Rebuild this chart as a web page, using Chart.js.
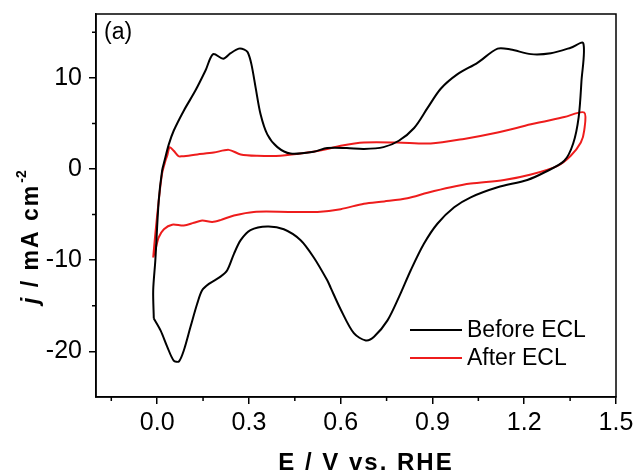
<!DOCTYPE html>
<html>
<head>
<meta charset="utf-8">
<script src="https://cdn.jsdelivr.net/npm/chart.js@4.4.1/dist/chart.umd.min.js"></script>
<style>
  html, body { margin: 0; padding: 0; background: #fff; }
  #wrap { width: 638px; height: 474px; }
</style>
</head>
<body>
<div id="wrap"><canvas id="cv" width="638" height="474"></canvas></div>
<script>
// CV loops (E in V vs RHE, j in mA cm-2)
const beforeE = [-0.011, -0.013, -0.006, 0.005, 0.016, 0.024, 0.038, 0.054, 0.087, 0.125, 0.158, 0.183, 0.216, 0.240, 0.267, 0.285, 0.296, 0.308, 0.322, 0.338, 0.360, 0.393, 0.436, 0.512, 0.556, 0.620, 0.676, 0.740, 0.790, 0.840, 0.884, 0.927, 0.982, 1.047, 1.113, 1.156, 1.222, 1.287, 1.352, 1.393,
  1.387, 1.378, 1.360, 1.331, 1.270, 1.210, 1.113, 1.025, 0.971, 0.916, 0.872, 0.829, 0.791, 0.753, 0.709, 0.682, 0.643, 0.600, 0.567, 0.556, 0.512, 0.469, 0.414, 0.360, 0.305, 0.273, 0.251, 0.229, 0.207, 0.169, 0.147, 0.131, 0.109, 0.087, 0.071, 0.054, 0.033, 0.011, -0.011];
const beforeJ = [-16.4, -13.3, -10.0, -3.5, -0.2, 0.9, 2.7, 4.2, 6.4, 8.6, 10.8, 12.6, 12.1, 12.7, 13.2, 13.1, 12.8, 11.5, 8.9, 6.0, 3.8, 2.4, 1.7, 1.9, 2.3, 2.3, 2.2, 2.4, 3.1, 4.5, 6.7, 8.8, 10.4, 11.65, 13.2, 13.1, 12.6, 12.7, 13.3, 13.8,
  9.6, 5.7, 2.8, 0.9, -0.3, -1.2, -2.0, -3.1, -4.2, -6.0, -8.2, -11.1, -14.0, -16.6, -18.4, -18.8, -18.0, -15.4, -13.0, -12.2, -9.7, -7.8, -6.6, -6.3, -6.7, -7.8, -9.3, -11.1, -11.8, -12.6, -13.3, -14.75, -17.3, -19.9, -21.1, -21.0, -19.5, -17.7, -16.4];

const afterE = [-0.013, -0.006, 0.005, 0.016, 0.027, 0.033, 0.041, 0.054, 0.070, 0.082, 0.131, 0.185, 0.234, 0.273, 0.327, 0.403, 0.491, 0.556, 0.600, 0.676, 0.785, 0.894, 1.003, 1.113, 1.222, 1.331, 1.396,
  1.396, 1.385, 1.352, 1.309, 1.222, 1.134, 1.025, 0.960, 0.884, 0.818, 0.742, 0.676, 0.600, 0.524, 0.436, 0.316, 0.251, 0.207, 0.180, 0.147, 0.120, 0.087, 0.049, 0.022, 0.005, -0.006, -0.013];
const afterJ = [-9.7, -7.1, -3.5, -0.5, 0.9, 1.5, 2.4, 2.0, 1.4, 1.4, 1.6, 1.8, 2.1, 1.6, 1.45, 1.45, 1.8, 2.2, 2.55, 2.9, 2.9, 2.8, 3.3, 4.0, 4.9, 5.7, 6.2,
  4.2, 2.9, 1.45, 0.35, -0.6, -1.2, -1.6, -2.0, -2.6, -3.2, -3.55, -3.8, -4.4, -4.7, -4.7, -4.7, -5.1, -5.6, -5.8, -5.65, -5.9, -6.2, -6.1, -6.6, -7.5, -8.9, -9.7];

const seriesNames = ['Before ECL', 'After ECL'];
const xMajor = [0, 0.3, 0.6, 0.9, 1.2, 1.5];
const xMinor = [-0.15, 0.15, 0.45, 0.75, 1.05, 1.35];
const yMajor = [-20, -10, 0, 10];
const yMinor = [-15, -5, 5, 15];

const family = "Arial, 'Liberation Sans', sans-serif";

const toPoints = (xs, ys) => xs.map((x, i) => ({ x: x, y: ys[i] }));

// frame, minor ticks, legend, axis titles and panel label
const decorations = {
  id: 'decorations',
  afterDraw(chart) {
    const ctx = chart.ctx;
    const area = chart.chartArea;
    const xs = chart.scales.x;
    const ys = chart.scales.y;

    ctx.save();
    ctx.strokeStyle = '#000';
    ctx.lineWidth = 1.5;
    ctx.strokeRect(area.left, area.top, area.right - area.left, area.bottom - area.top);

    ctx.beginPath();
    xMinor.forEach(v => {
      const px = xs.getPixelForValue(v);
      ctx.moveTo(px, area.bottom);
      ctx.lineTo(px, area.bottom + 4);
    });
    yMinor.forEach(v => {
      const py = ys.getPixelForValue(v);
      ctx.moveTo(area.left, py);
      ctx.lineTo(area.left - 4, py);
    });
    ctx.stroke();

    // legend
    ctx.lineWidth = 2;
    ctx.font = '23px ' + family;
    ctx.textBaseline = 'middle';
    ctx.textAlign = 'left';
    chart.data.datasets.forEach((ds, i) => {
      const y = 330 + i * 28;
      ctx.strokeStyle = ds.borderColor;
      ctx.beginPath();
      ctx.moveTo(410, y);
      ctx.lineTo(462, y);
      ctx.stroke();
      ctx.fillStyle = '#000';
      ctx.fillText(ds.label, 467, y + 1);
    });

    // panel label
    ctx.font = '23px ' + family;
    ctx.textBaseline = 'alphabetic';
    ctx.fillText('(a)', 104, 39);

    // x title
    ctx.letterSpacing = '2px';
    ctx.font = 'bold 24px ' + family;
    ctx.textAlign = 'center';
    ctx.fillText('E / V vs. RHE', 366, 470);

    // y title
    ctx.textAlign = 'left';
    ctx.translate(38, 304);
    ctx.rotate(-Math.PI / 2);
    ctx.font = 'italic bold 23px ' + family;
    ctx.fillText('j', 0, 0);
    let w = ctx.measureText('j').width;
    ctx.font = 'bold 23px ' + family;
    ctx.fillText(' / mA cm', w, 0);
    w += ctx.measureText(' / mA cm').width;
    ctx.letterSpacing = '0px';
    ctx.font = 'bold 14px ' + family;
    ctx.fillText('-2', w + 1, -12);
    ctx.restore();
  }
};

new Chart(document.getElementById('cv'), {
  type: 'scatter',
  data: {
    datasets: [
      {
        label: seriesNames[0],
        data: toPoints(beforeE, beforeJ),
        showLine: true,
        borderColor: '#000',
        borderWidth: 2,
        pointRadius: 0,
        tension: 0.3,
        fill: false
      },
      {
        label: seriesNames[1],
        data: toPoints(afterE, afterJ),
        showLine: true,
        borderColor: '#ee1c1c',
        borderWidth: 2,
        pointRadius: 0,
        tension: 0.3,
        fill: false
      }
    ]
  },
  options: {
    responsive: false,
    animation: false,
    layout: { padding: { top: 14, right: 22, left: 0, bottom: 0 } },
    plugins: {
      legend: { display: false },
      tooltip: { enabled: false }
    },
    scales: {
      x: {
        type: 'linear',
        min: -0.2,
        max: 1.5,
        afterBuildTicks: s => { s.ticks = xMajor.map(v => ({ value: v })); },
        afterFit: s => { s.height = 77; s.paddingLeft = 0; s.paddingRight = 0; },
        grid: { drawOnChartArea: false, drawTicks: true, tickLength: 7, color: '#000', lineWidth: 1.5 },
        border: { display: true, color: '#000', width: 1.5 },
        ticks: {
          color: '#000',
          font: { family: family, size: 25 },
          padding: 4,
          maxRotation: 0,
          autoSkip: false,
          callback: v => v.toFixed(1)
        }
      },
      y: {
        type: 'linear',
        min: -25,
        max: 17,
        afterBuildTicks: s => { s.ticks = yMajor.map(v => ({ value: v })); },
        afterFit: s => { s.width = 96; s.paddingTop = 0; s.paddingBottom = 0; },
        grid: { drawOnChartArea: false, drawTicks: true, tickLength: 7, color: '#000', lineWidth: 1.5 },
        border: { display: true, color: '#000', width: 1.5 },
        ticks: {
          color: '#000',
          font: { family: family, size: 25 },
          padding: 7,
          autoSkip: false,
          callback: v => String(v)
        }
      }
    }
  },
  plugins: [decorations]
});
</script>
</body>
</html>
